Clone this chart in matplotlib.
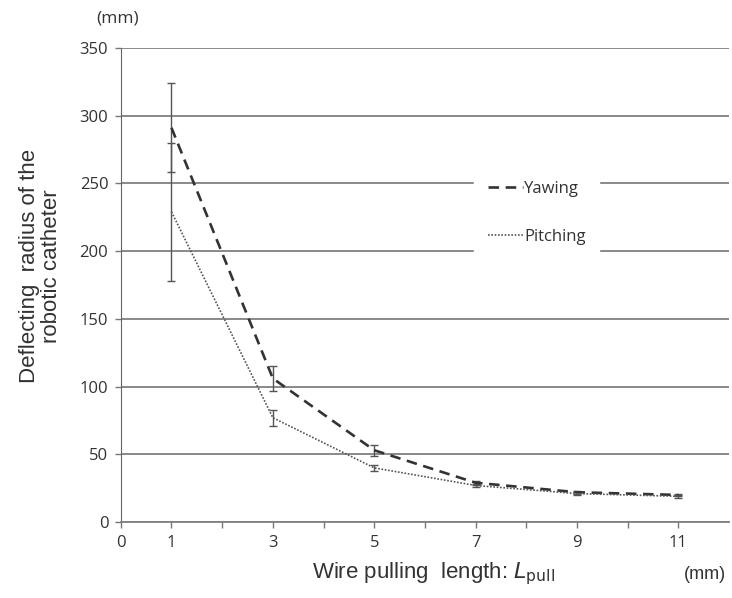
import numpy as np
import matplotlib.pyplot as plt
from matplotlib.lines import Line2D

x = [1, 3, 5, 7, 9, 11]
yaw = [291, 106, 53, 29, 22, 20]
yaw_err = [33, 9, 4, 1.5, 1, 1]
pitch = [229, 77, 40, 27, 21, 19]
pitch_err = [51, 6, 2, 1, 1, 1]

ytick_vals = [0, 50, 100, 150, 200, 250, 300, 350]
xtick_labels = ['0', '1', '', '3', '', '5', '', '7', '', '9', '', '11']

fig = plt.figure(figsize=(7.32, 5.98), dpi=100)
ax = fig.add_axes([0.165, 0.127, 0.831, 0.793])

for v in ytick_vals:
    ax.axhline(v, color='#808080', lw=1.3, zorder=1)

yaw_ls = (0, (4, 2.5))
pitch_ls = (0, (1, 1))
ax.errorbar(x, yaw, yerr=yaw_err, color='#333333', ls=yaw_ls, lw=1.9,
            ecolor='#555555', elinewidth=1, capsize=3, capthick=1, zorder=3)
ax.errorbar(x, pitch, yerr=pitch_err, color='#555555', ls=pitch_ls, lw=1.2,
            ecolor='#555555', elinewidth=1, capsize=3, capthick=1, zorder=3)

ax.set_xlim(0, 12)
ax.set_ylim(0, 350)
ax.set_xticks(range(12))
ax.set_xticklabels(xtick_labels, family='Open Sans', fontsize=12, color='#333333')
ax.set_yticks(ytick_vals)
ax.set_yticklabels([str(v) for v in ytick_vals], family='Open Sans', fontsize=12, color='#333333')
ax.tick_params(axis='both', direction='out', length=4, width=1, color='#777777', pad=5)

for s in ['top', 'right']:
    ax.spines[s].set_visible(False)
ax.spines['left'].set_color('#666666')
ax.spines['bottom'].set_color('#808080')
ax.spines['bottom'].set_linewidth(1.3)

handles = [Line2D([], [], color='#333333', ls=yaw_ls, lw=1.9),
           Line2D([], [], color='#555555', ls=pitch_ls, lw=1.2)]
leg = ax.legend(handles, ['Yawing', 'Pitching'], loc='center', bbox_to_anchor=(0.684, 0.652),
                frameon=True, fancybox=False, edgecolor='white', facecolor='white', framealpha=1,
                handlelength=2.1, handletextpad=0.1, labelspacing=1.9, borderpad=0.8,
                prop={'family': 'Open Sans', 'size': 12})
for t in leg.get_texts():
    t.set_color('#333333')
leg.set_zorder(5)

ax.set_ylabel('Deflecting  radius of the\nrobotic catheter', family='Liberation Sans',
              fontsize=16, color='#333333', linespacing=1.05)
ax.yaxis.set_label_coords(-0.097, 0.54)
fig.text(0.758, 0.032, 'Wire pulling  length: $\\mathit{L}_{\\rm pull}$', ha='right',
         family='Liberation Sans', fontsize=16, color='#333333')
fig.text(0.963, 0.032, '(mm)', ha='center', family='Liberation Sans', fontsize=13, color='#333333')
fig.text(0.161, 0.962, '(mm)', ha='center', family='Open Sans', fontsize=12.5, color='#333333')

plt.savefig('out.png', dpi=100)
